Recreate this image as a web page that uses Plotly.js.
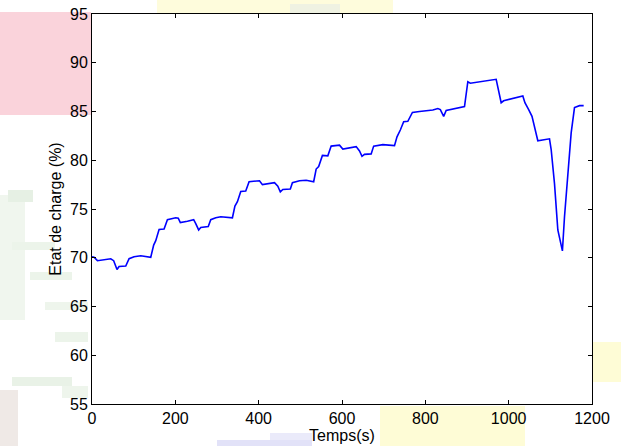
<!DOCTYPE html>
<html>
<head>
<meta charset="utf-8">
<script src="https://cdn.plot.ly/plotly-3.0.1.min.js"></script>
<style>html,body{margin:0;padding:0;background:#fff;}#chart{width:621px;height:446px;}</style>
</head>
<body>
<div id="chart"></div>
<script>
// Time (s)
const timeS = [0,5,13,25,45,52,60,65,81,89,
  101,117,141,148,153,161,173,181,201,207,
  212,229,244,249,256,261,279,285,297,309,
  325,337,343,349,357,369,377,402,409,438,
  446,452,458,476,481,498,514,532,538,544,
  553,566,574,594,602,634,642,648,654,670,
  676,698,726,732,740,748,758,769,786,818,
  830,836,844,850,894,902,908,970,982,988,
  1034,1039,1048,1056,1070,1080,1098,1102,1110,1118,
  1129,1134,1142,1150,1158,1170,1180];
// State of charge (%)
const socPct = [70.1,70.05,69.7,69.8,69.9,69.7,68.8,69.1,69.15,69.9,
  70.1,70.2,70.05,71.3,71.75,72.9,72.95,73.9,74.1,74.05,
  73.6,73.75,73.9,73.5,72.85,73.1,73.2,73.9,74.1,74.2,
  74.1,74.1,75.3,75.75,76.8,76.85,77.8,77.9,77.5,77.7,
  77.35,76.75,77.0,77.05,77.7,77.9,77.95,77.8,79.1,79.35,
  80.5,80.45,81.45,81.55,81.15,81.4,80.95,80.4,80.6,80.65,
  81.45,81.6,81.5,82.4,83.1,83.95,84.0,84.9,85.0,85.15,
  85.3,85.2,84.5,85.1,85.5,88.05,87.9,88.3,85.9,86.1,
  86.6,85.9,85.2,84.5,82.0,82.1,82.2,81.1,77.6,72.85,
  70.7,74.2,78.3,82.8,85.4,85.6,85.6];
const xTicks = [0,200,400,600,800,1000,1200];
const yTicks = [55,60,65,70,75,80,85,90,95];
const xTitle = "Temps(s)";
const yTitle = "Etat de charge (%)";

// decorative background blobs (pixel -> paper coords)
const L = 92, R = 592, T = 14, B = 404;
function px(x){ return (x - L) / (R - L); }
function py(y){ return (B - y) / (B - T); }
function blob(x0, y0, x1, y1, color){
  return {type:'rect', xref:'paper', yref:'paper', layer:'below',
    x0:px(x0), x1:px(x1), y0:py(y1), y1:py(y0), fillcolor:color, line:{width:0}};
}
const shapes = [
  blob(0, 12, 91, 115, '#fad3db'),
  blob(157, 0, 393, 13, '#fefcdc'),
  blob(290, 4, 340, 13, '#eff2e2'),
  blob(380, 406, 525, 446, '#fefcd6'),
  blob(593, 342, 621, 382, '#fefcd6'),
  blob(217, 440, 312, 446, '#e2e2f8'),
  blob(270, 433, 312, 440, '#eaeafa'),
  blob(0, 390, 18, 446, '#efe9e6'),
  // pale green foliage on the left
  blob(0, 195, 25, 320, '#f0f6ee'),
  blob(8, 190, 33, 202, '#e6f0e4'),
  blob(12, 242, 55, 250, '#ecf4ea'),
  blob(30, 272, 72, 280, '#ecf4ea'),
  blob(45, 302, 88, 310, '#eef5ec'),
  blob(55, 332, 88, 342, '#ecf4ea'),
  blob(12, 377, 72, 386, '#e9f2e7'),
  blob(62, 386, 88, 398, '#eef5ec')
];

const trace = {x: timeS, y: socPct, type:'scatter', mode:'lines',
  line:{color:'#0000ff', width:1.6}, hoverinfo:'skip'};

const FONT = 'Liberation Sans, Arial, sans-serif';
const axisCommon = {showline:true, linecolor:'#000', linewidth:1, mirror:'ticks',
  ticks:'inside', ticklen:4, tickcolor:'#000', tickwidth:1,
  showgrid:false, zeroline:false, tickfont:{family:FONT, size:16, color:'#000'}};

const layout = {
  width:621, height:446,
  margin:{l:92, r:29, t:14, b:42},
  paper_bgcolor:'#ffffff', plot_bgcolor:'#ffffff',
  showlegend:false,
  font:{family:FONT, size:16, color:'#000'},
  xaxis: Object.assign({}, axisCommon, {range:[0,1200], tickvals:xTicks, ticktext:xTicks.map(String),
    title:{text:xTitle, standoff:0, font:{size:16}}}),
  yaxis: Object.assign({}, axisCommon, {range:[55,95], tickvals:yTicks, ticktext:yTicks.map(String),
    title:{text:yTitle, standoff:4, font:{size:16}}}),
  shapes: shapes
};
Plotly.newPlot('chart', [trace], layout, {displayModeBar:false, staticPlot:true});
</script>
</body>
</html>
